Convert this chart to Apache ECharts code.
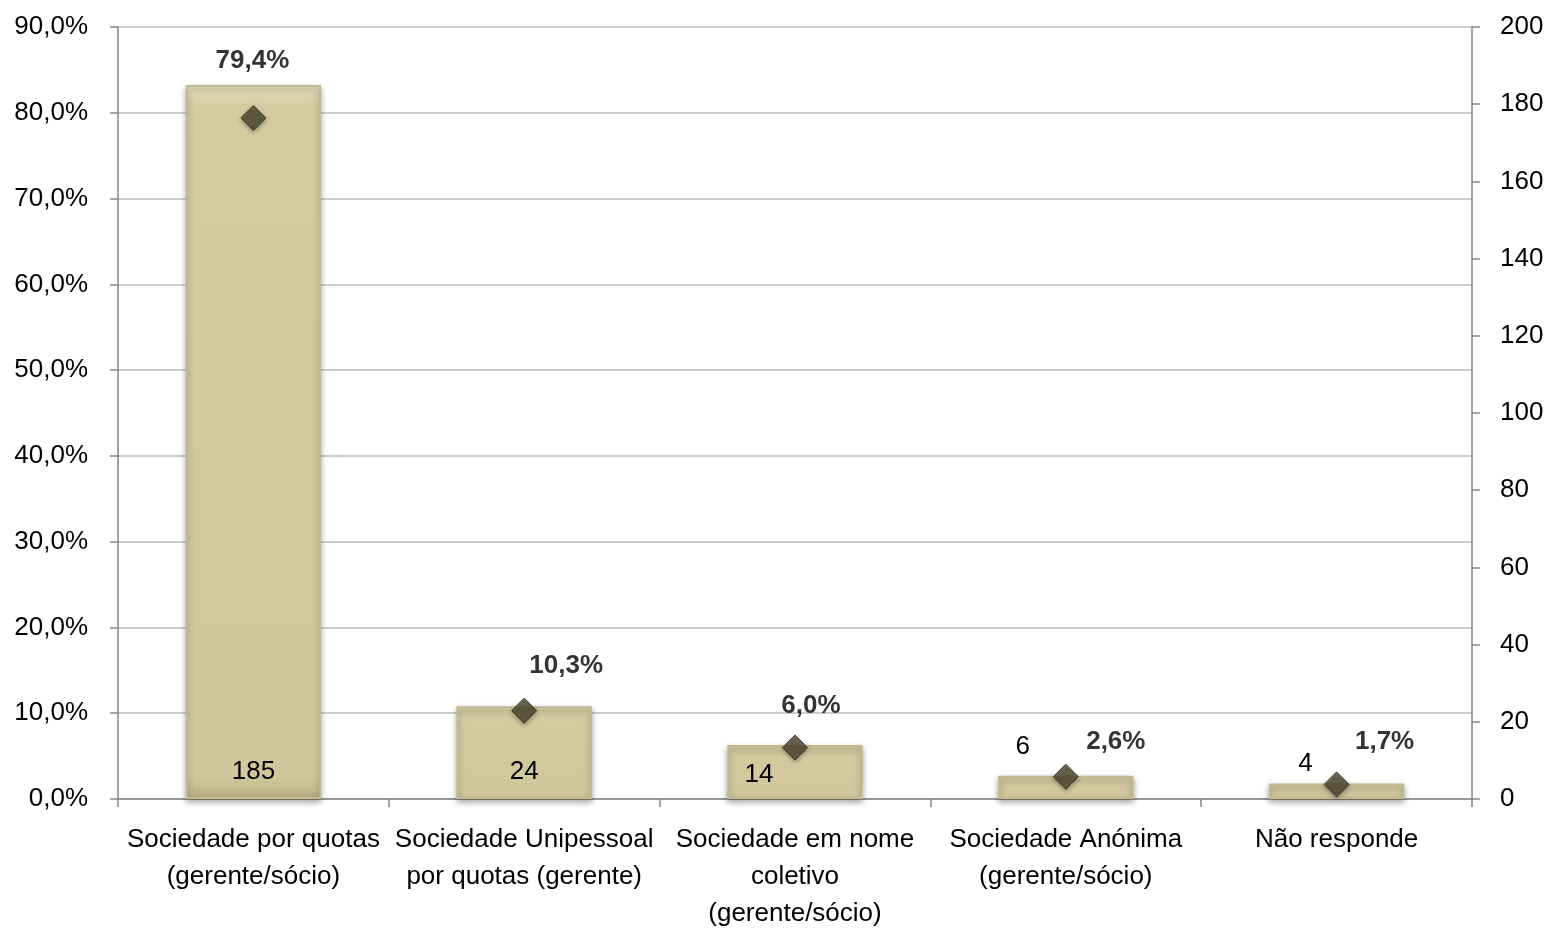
<!DOCTYPE html>
<html><head><meta charset="utf-8">
<script src="https://cdn.jsdelivr.net/npm/echarts@6/dist/echarts.min.js"></script>
<style>html,body{margin:0;padding:0;background:#fff}#c{width:1545px;height:928px}</style>
</head><body><div id="c"></div>
<script>
const categories = ['Sociedade por quotas\n(gerente/sócio)', 'Sociedade Unipessoal\npor quotas (gerente)', 'Sociedade em nome\ncoletivo\n(gerente/sócio)', 'Sociedade Anónima\n(gerente/sócio)', 'Não responde'];
const counts = [185, 24, 14, 6, 4];
const percents = [79.4, 10.3, 6.0, 2.6, 1.7];

const FONT = "'Liberation Sans Narrow','Arial Narrow','Liberation Sans',sans-serif";
const countLabelPos = [
  {position:'insideBottom', offset:[0,-9]},
  {position:'insideBottom', offset:[0,-9]},
  {position:'insideBottom', offset:[-36,-6]},
  {position:'top', offset:[-43,-11]},
  {position:'top', offset:[-31,-2]}
];
const pctLabelPos = [
  {position:'top', offset:[-1,-26]},
  {position:'top', offset:[42,-14]},
  {position:'top', offset:[16,-11]},
  {position:'top', offset:[50,-4]},
  {position:'top', offset:[48,-12]}
];
const chart = echarts.init(document.getElementById('c'));
chart.setOption({
  animation:false,
  grid:{left:118,right:73,top:27,bottom:129,containLabel:false,outerBoundsMode:'none'},
  xAxis:{type:'category',data:categories,
    axisLine:{lineStyle:{color:'#868686',width:1.5}},
    axisTick:{show:true,length:8,lineStyle:{color:'#868686',width:1.5}},
    axisLabel:{fontFamily:FONT,fontSize:26,color:'#000',lineHeight:37,margin:22,interval:0}},
  yAxis:[
    {type:'value',min:0,max:90,interval:10,position:'left',
     axisLine:{show:true,lineStyle:{color:'#868686',width:1.5}},
     axisTick:{show:true,length:8,lineStyle:{color:'#868686',width:1.5}},
     splitLine:{lineStyle:{color:'#BDBDBD',width:1.5}},
     axisLabel:{fontFamily:FONT,fontSize:26,color:'#000',margin:30,verticalAlign:'middle',padding:[4,0,0,0],
       formatter:v=>v.toFixed(1).replace('.',',')+'%'}},
    {type:'value',min:0,max:200,interval:20,position:'right',
     axisLine:{show:true,lineStyle:{color:'#868686',width:1.5}},
     axisTick:{show:true,length:8,lineStyle:{color:'#868686',width:1.5}},
     splitLine:{show:false},
     axisLabel:{fontFamily:FONT,fontSize:26,color:'#000',margin:28,padding:[4,0,0,0]}}
  ],
  series:[
    {type:'bar',yAxisIndex:1,barWidth:'50%',
     data:counts.map((v,i)=>({value:v,label:Object.assign({show:true},countLabelPos[i])})),
     itemStyle:{color:{type:'linear',x:0,y:0,x2:0,y2:1,colorStops:[
       {offset:0,color:'#E8E1C2'},{offset:0.03,color:'#D4CBA1'},{offset:0.97,color:'#D0C79C'},{offset:1,color:'#B5AC82'}]},
       borderColor:'#C2B98E',borderWidth:2,shadowColor:'rgba(0,0,0,0.35)',shadowBlur:6,shadowOffsetY:3},
     label:{fontFamily:FONT,fontSize:26,color:'#000'}},
    {type:'scatter',yAxisIndex:0,symbol:'diamond',symbolSize:[25,25],
     data:percents.map((v,i)=>({value:v,label:Object.assign({show:true},pctLabelPos[i])})),
     itemStyle:{color:'#4E4A30',borderColor:'#2F2C1C',borderWidth:1,shadowColor:'rgba(0,0,0,0.4)',shadowBlur:4,shadowOffsetY:2},
     label:{fontFamily:FONT,fontSize:26,fontWeight:'bold',color:'#000',
       formatter:p=>p.value.toFixed(1).replace('.',',')+'%'}}
  ]
});
</script></body></html>
